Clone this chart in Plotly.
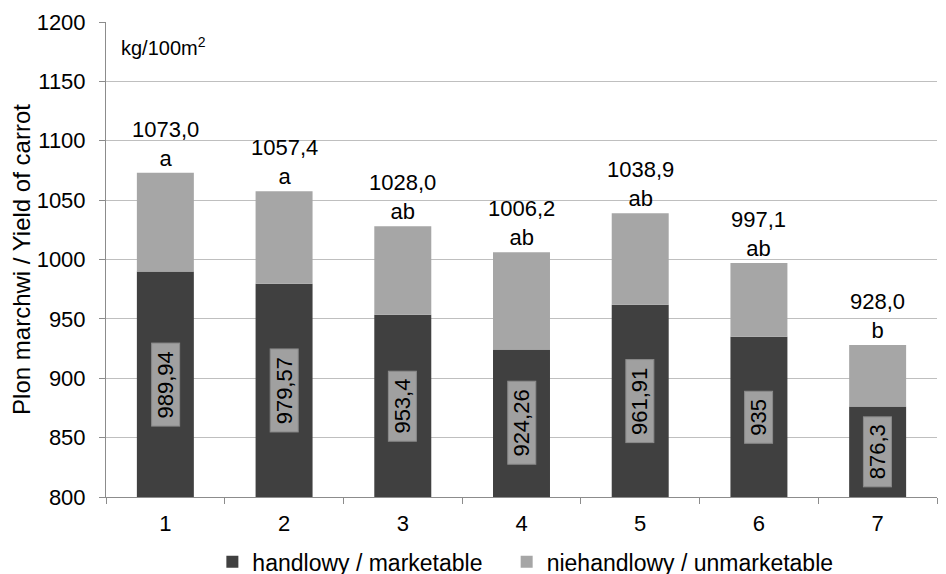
import plotly.graph_objects as go

categories = ["1", "2", "3", "4", "5", "6", "7"]
marketable = [989.94, 979.57, 953.4, 924.26, 961.91, 935, 876.3]
total = [1073.0, 1057.4, 1028.0, 1006.2, 1038.9, 997.1, 928.0]
marketable_labels = ["989,94", "979,57", "953,4", "924,26", "961,91", "935", "876,3"]
total_labels = ["1073,0", "1057,4", "1028,0", "1006,2", "1038,9", "997,1", "928,0"]
letters = ["a", "a", "ab", "ab", "ab", "ab", "b"]
series_names = ["handlowy / marketable", "niehandlowy / unmarketable"]
y_ticks = [800, 850, 900, 950, 1000, 1050, 1100, 1150, 1200]

unmarketable = [t - m for t, m in zip(total, marketable)]

FONT = "Arial, Liberation Sans, sans-serif"
DARK = "#404040"
LIGHT = "#a6a6a6"
PAD = "\u00a0\u00a0\u00a0"

fig = go.Figure()
fig.add_trace(go.Bar(x=categories, y=marketable, name=series_names[0] + PAD,
                     marker=dict(color=DARK, line=dict(width=0))))
fig.add_trace(go.Bar(x=categories, y=unmarketable, base=marketable,
                     name=series_names[1],
                     marker=dict(color=LIGHT, line=dict(width=0))))

annotations = []
for i, (m, lab) in enumerate(zip(marketable, marketable_labels)):
    annotations.append(dict(x=i, y=(800 + m) / 2, xref="x", yref="y",
                            text="&nbsp;" + lab + "&nbsp;",
                            textangle=-90, showarrow=False,
                            font=dict(family=FONT, size=22, color="#000000"),
                            bgcolor="#a0a0a0", bordercolor="#8a8a8a",
                            borderwidth=1, borderpad=1))
for i, (t, lab, let) in enumerate(zip(total, total_labels, letters)):
    annotations.append(dict(x=i, y=t, xref="x", yref="y",
                            text=lab + "<br>" + let, showarrow=False,
                            yanchor="bottom", yshift=0,
                            font=dict(family=FONT, size=22, color="#000000")))
annotations.append(dict(x=0.016, y=0.978, xref="paper", yref="paper",
                        text="kg/100m<sup>2</sup>", showarrow=False,
                        xanchor="left", yanchor="top",
                        font=dict(family=FONT, size=20, color="#000000")))

fig.update_layout(
    barmode="overlay",
    bargap=0.52,
    width=946, height=574,
    margin=dict(l=98, r=17, t=14, b=85, autoexpand=False),
    plot_bgcolor="white", paper_bgcolor="white",
    font=dict(family=FONT, size=22, color="#000000"),
    showlegend=True,
    legend=dict(orientation="h", x=0.128, xanchor="left", yref="container",
                y=0.035, yanchor="middle",
                font=dict(family=FONT, size=23, color="#000000"),
                itemwidth=30, traceorder="normal"),
    annotations=annotations,
)
fig.update_yaxes(range=[800, 1200], tickvals=y_ticks, showgrid=True,
                 gridcolor="#bfbfbf", gridwidth=1, showline=True,
                 linecolor="#8c8c8c", linewidth=1, ticks="outside",
                 ticklen=6, tickcolor="#8c8c8c", zeroline=False,
                 automargin=False, ticklabelstandoff=9,
                 tickfont=dict(family=FONT, size=22),
                 title=dict(text="Plon marchwi / Yield of carrot",
                            font=dict(family=FONT, size=24), standoff=8))
fig.update_xaxes(showline=True, linecolor="#8c8c8c", linewidth=1,
                 ticks="outside", tickson="boundaries", ticklen=6,
                 automargin=False, ticklabelstandoff=7,
                 tickcolor="#8c8c8c", tickfont=dict(family=FONT, size=22))

fig.write_html("out.html")
